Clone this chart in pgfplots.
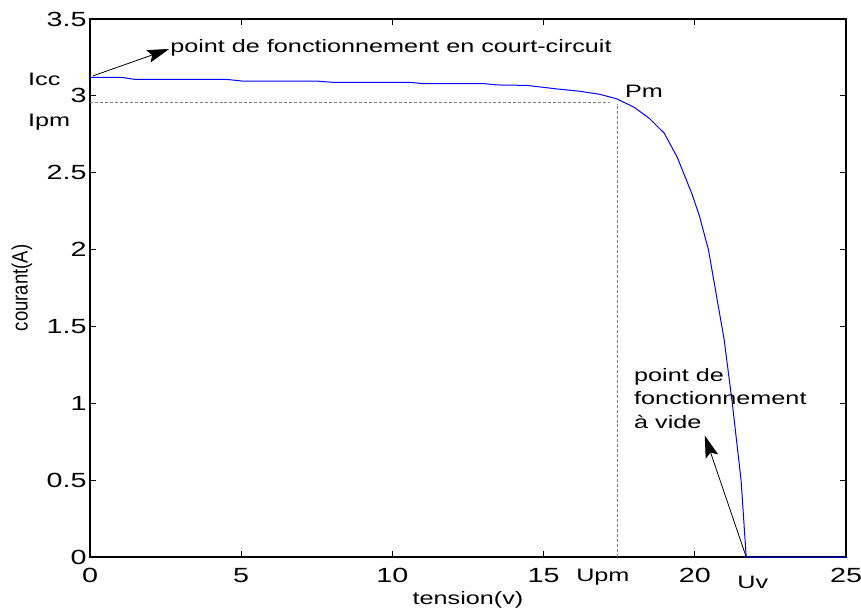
\documentclass[border=0pt]{standalone}
\usepackage{fontspec}
\setmainfont[FakeStretch=1.4]{Liberation Sans}
\newfontfamily\ylabfont{Liberation Sans}
\usepackage{graphicx}
\usepackage{pgfplots}
\pgfplotsset{compat=1.18}
\usetikzlibrary{arrows.meta}
\begin{document}
\begin{tikzpicture}
\path[use as bounding box] (-90bp,-57bp) rectangle (771bp,557bp);
\begin{axis}[
  scale only axis, width=756bp, height=538bp,
  xmin=0, xmax=25, ymin=0, ymax=3.5,
  xtick={0,5,10,15,20,25},
  ytick={0,0.5,1,1.5,2,2.5,3,3.5},
  yticklabels={0,0.5,1,1.5,2,2.5,3,3.5},
  xticklabels={0,5,10,15,20,25},
  tick align=inside, major tick length=6bp,
  axis line style={line width=1.3bp, black},
  tick style={line width=1bp, black},
  clip=false,
  /pgf/number format/assume math mode=true,
  ticklabel style={font=\fontsize{20.5bp}{24bp}\selectfont},
  xticklabel style={yshift=-8bp},
  xlabel={tension(v)},
  xlabel style={at={(axis description cs:0.5,-0.088)}, anchor=base, font=\fontsize{18bp}{22bp}\selectfont},
  ylabel={\scalebox{1}[1.2]{\ylabfont\fontsize{18.5bp}{22bp}\selectfont courant(A)}},
  ylabel style={at={(axis description cs:-0.09,0.5)}, anchor=center},
]
\addplot[gray, densely dashed, line width=0.6bp] coordinates {(0,2.96) (17.2,2.96)};
\addplot[gray, densely dashed, line width=0.6bp] coordinates {(17.44,0) (17.44,2.95)};
\addplot[blue, line width=1bp] coordinates {
 (0,3.12) (1.06,3.12) (1.49,3.107) (4.52,3.107) (5.05,3.096) (7.5,3.096)
 (8.03,3.088) (10.57,3.088) (11.0,3.080) (13.0,3.080) (13.46,3.071) (14.45,3.068)
 (15.44,3.045) (16.2,3.03) (16.86,3.01) (17.43,2.98) (18.0,2.925) (18.5,2.853)
 (18.99,2.757) (19.42,2.60) (19.91,2.36) (20.15,2.22) (20.45,2.0) (20.97,1.415)
 (21.24,1.0) (21.53,0.5) (21.7,0) (25,0)};
\begin{scope}[every node/.style={font=\fontsize{18bp}{22bp}\selectfont, inner sep=0pt}]
\node[anchor=west] at (axis cs:-2.05,3.11) {Icc};
\node[anchor=west] at (axis cs:-2.05,2.83) {Ipm};
\node[anchor=west] at (axis cs:17.69,3.03) {Pm};
\node[anchor=center] at (axis cs:16.96,-0.13) {Upm};
\node[anchor=center] at (axis cs:21.92,-0.163) {Uv};
\node[anchor=base west] at (axis cs:2.65,3.28) {point de fonctionnement en court-circuit};
\node[anchor=base west] at (axis cs:17.99,1.139) {point de};
\node[anchor=base west] at (axis cs:17.99,0.99) {fonctionnement};
\node[anchor=base west] at (axis cs:17.99,0.834) {à vide};
\end{scope}
\draw[line width=0.8bp, -{Stealth[length=22bp,width=13bp,inset=4bp]}] (axis cs:0.1,3.13) -- (axis cs:2.62,3.305);
\draw[line width=0.8bp, -{Stealth[length=22bp,width=13bp,inset=4bp]}] (axis cs:21.7,0) -- (axis cs:20.33,0.79);
\end{axis}
\end{tikzpicture}
\end{document}
